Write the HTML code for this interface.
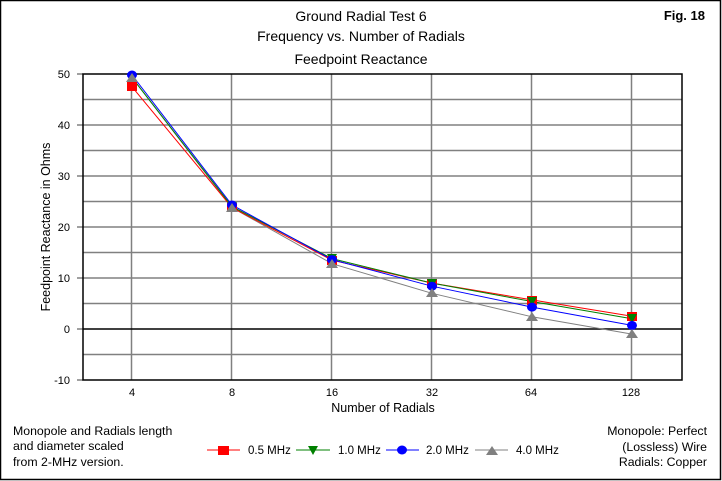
<!DOCTYPE html>
<html><head><meta charset="utf-8"><style>
html,body{margin:0;padding:0;background:#fff}
svg{display:block}
text{font-family:"Liberation Sans",Arial,sans-serif;fill:#000}
</style></head><body>
<svg width="722" height="481" viewBox="0 0 722 481" xmlns="http://www.w3.org/2000/svg">
<rect x="0.5" y="0.5" width="720" height="479" fill="#fff" stroke="#000" stroke-width="1.5"/>
<text x="361" y="21" font-size="14" text-anchor="middle">Ground Radial Test 6</text>
<text x="361" y="41" font-size="14" text-anchor="middle">Frequency vs. Number of Radials</text>
<text x="361" y="64" font-size="14" text-anchor="middle">Feedpoint Reactance</text>
<text x="705" y="20" font-size="13" font-weight="bold" text-anchor="end">Fig. 18</text>
<g stroke="#808080" stroke-width="1.5">
<line x1="83" x2="682" y1="99.5" y2="99.5"/><line x1="83" x2="682" y1="125" y2="125"/>
<line x1="83" x2="682" y1="150.5" y2="150.5"/><line x1="83" x2="682" y1="176" y2="176"/>
<line x1="83" x2="682" y1="201.5" y2="201.5"/><line x1="83" x2="682" y1="227" y2="227"/>
<line x1="83" x2="682" y1="252.5" y2="252.5"/><line x1="83" x2="682" y1="278" y2="278"/>
<line x1="83" x2="682" y1="303.5" y2="303.5"/><line x1="83" x2="682" y1="354.5" y2="354.5"/>
<line x1="131.5" x2="131.5" y1="74" y2="380"/><line x1="231.5" x2="231.5" y1="74" y2="380"/>
<line x1="331.5" x2="331.5" y1="74" y2="380"/><line x1="431.5" x2="431.5" y1="74" y2="380"/>
<line x1="531.5" x2="531.5" y1="74" y2="380"/><line x1="631.5" x2="631.5" y1="74" y2="380"/>
<line x1="77" x2="83" y1="74" y2="74"/><line x1="77" x2="83" y1="125" y2="125"/>
<line x1="77" x2="83" y1="176" y2="176"/><line x1="77" x2="83" y1="227" y2="227"/>
<line x1="77" x2="83" y1="278" y2="278"/><line x1="77" x2="83" y1="329" y2="329"/>
<line x1="77" x2="83" y1="380" y2="380"/>
</g>
<line x1="83" x2="682" y1="329" y2="329" stroke="#000" stroke-width="1.5"/>
<rect x="83" y="74" width="599" height="306" fill="none" stroke="#000" stroke-width="1.5"/>
<g font-size="11" text-anchor="end">
<text x="70" y="78">50</text><text x="70" y="129">40</text><text x="70" y="180">30</text>
<text x="70" y="231">20</text><text x="70" y="282">10</text><text x="70" y="333">0</text><text x="70" y="384">-10</text>
</g>
<g font-size="11" text-anchor="middle">
<text x="132" y="396">4</text><text x="232" y="396">8</text><text x="332" y="396">16</text>
<text x="432" y="396">32</text><text x="531" y="396">64</text><text x="631" y="396">128</text>
</g>
<text x="383" y="412" font-size="12.5" text-anchor="middle">Number of Radials</text>
<text transform="translate(50,227) rotate(-90)" font-size="12.5" text-anchor="middle">Feedpoint Reactance in Ohms</text>
<polyline fill="none" stroke="#808080" points="132,77.6 232,207.6 332,263.7 432,293.3 532,316.8 632,334.1"/>
<polyline fill="none" stroke="#ff0000" points="132,86.8 232,207.6 332,260.2 432,283.1 532,299.9 632,316.3"/>
<polyline fill="none" stroke="#008000" points="132,77.6 232,206.6 332,258.6 432,283.1 532,301.5 632,318.8"/>
<polyline fill="none" stroke="#0000ff" points="132,75 232,205 332,259.6 432,286.2 532,307.1 632,325.4"/>
<g fill="#ff0000"><rect x="127" y="82" width="10" height="9"/><rect x="227" y="203" width="10" height="9"/><rect x="327" y="256" width="10" height="9"/><rect x="427" y="279" width="10" height="9"/><rect x="527" y="296" width="10" height="9"/><rect x="627" y="312" width="10" height="9"/></g>
<g fill="#008000"><path d="M127,73h10l-5,9z"/><path d="M227,202h10l-5,9z"/><path d="M327,254h10l-5,9z"/><path d="M427,279h10l-5,9z"/><path d="M527,297h10l-5,9z"/><path d="M627,314h10l-5,9z"/></g>
<g fill="#0000ff"><ellipse cx="132" cy="75" rx="5" ry="4.5"/><ellipse cx="232" cy="205" rx="5" ry="4.5"/><ellipse cx="332" cy="259.6" rx="5" ry="4.5"/><ellipse cx="432" cy="286.2" rx="5" ry="4.5"/><ellipse cx="532" cy="307.1" rx="5" ry="4.5"/><ellipse cx="632" cy="325.4" rx="5" ry="4.5"/></g>
<g fill="#808080"><path d="M126,82l6,-9l6,9z"/><path d="M226,212l6,-9l6,9z"/><path d="M326,268l6,-9l6,9z"/><path d="M426,297l6,-9l6,9z"/><path d="M526,321l6,-9l6,9z"/><path d="M626,338l6,-9l6,9z"/></g>
<g font-size="12.3">
<text x="13" y="435">Monopole and Radials length</text>
<text x="13" y="450">and diameter scaled</text>
<text x="13" y="466">from 2-MHz version.</text>
<text x="707" y="435" text-anchor="end">Monopole: Perfect</text>
<text x="707" y="451" text-anchor="end">(Lossless) Wire</text>
<text x="707" y="466" text-anchor="end">Radials: Copper</text>
</g>
<g font-size="11.5">
<text x="248" y="454">0.5 MHz</text><text x="338" y="454">1.0 MHz</text>
<text x="426" y="454">2.0 MHz</text><text x="516" y="454">4.0 MHz</text>
</g>
<line x1="207" x2="240" y1="450" y2="450" stroke="#ff0000"/><rect x="218" y="446" width="11" height="9" fill="#ff0000"/>
<line x1="296" x2="330" y1="450" y2="450" stroke="#008000"/><path d="M308,446h10l-5,9z" fill="#008000"/>
<line x1="386" x2="419" y1="450" y2="450" stroke="#0000ff"/><ellipse cx="402" cy="450" rx="5" ry="4.5" fill="#0000ff"/>
<line x1="475" x2="508" y1="450" y2="450" stroke="#808080"/><path d="M486,455l6,-9l6,9z" fill="#808080"/>
</svg>
</body></html>
